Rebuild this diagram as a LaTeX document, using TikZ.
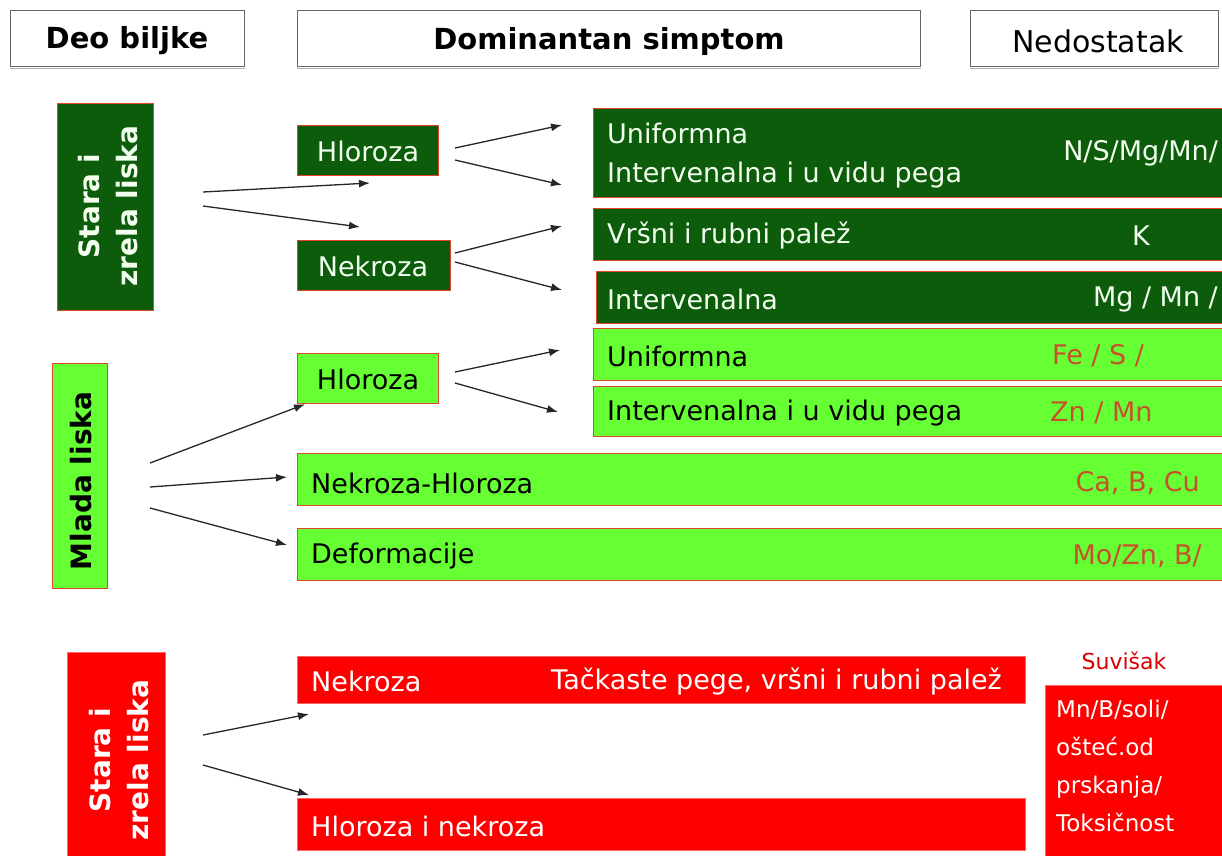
\documentclass[tikz,border=0pt]{standalone}
\usepackage{fontspec}
\setmainfont{DejaVu Sans}
\usetikzlibrary{arrows.meta}
\definecolor{dgreen}{HTML}{0C5C0C}
\definecolor{lgreen}{HTML}{66FF33}
\definecolor{bred}{HTML}{FF0000}
\definecolor{edge}{HTML}{E2452B}
\definecolor{elem}{HTML}{C8502D}
\definecolor{wtxt}{HTML}{F2FFEE}
\begin{document}
\begin{tikzpicture}[x=1pt,y=-1pt,
  hdr/.style={draw=gray!80!black, line width=0.8pt, fill=white, anchor=north west, inner sep=0pt},
  dg/.style={fill=dgreen, draw=edge, line width=1.2pt, anchor=north west, inner sep=0pt},
  lg/.style={fill=lgreen, draw=edge, line width=1.2pt, anchor=north west, inner sep=0pt},
  rd/.style={fill=bred, draw=bred!60!white, line width=0.6pt, anchor=north west, inner sep=0pt},
  txt/.style={font=\fontsize{27}{32}\selectfont, inner sep=0pt},
  wt/.style={txt, text=wtxt},
  bt/.style={txt, text=black},
  et/.style={txt, text=elem},
  vlab/.style={font=\fontsize{28}{38}\selectfont\bfseries, rotate=90, align=center, inner sep=0pt},
  arr/.style={draw=black!85, line width=1.3pt, -{Latex[length=11pt,width=8pt]}}
]
\useasboundingbox (0,0) rectangle (1222,855);
\clip (0,0) rectangle (1222,855);
% header
\node[hdr, minimum width=234, minimum height=56] (h1) at (10,10) {};
\node[bt, font=\fontsize{29}{32}\selectfont\bfseries] (h1t) at (127,41) {Deo biljke};
\node[hdr, minimum width=623, minimum height=56] (h2) at (297,10) {};
\node[bt, font=\fontsize{29}{32}\selectfont\bfseries] (h2t) at (609,41) {Dominantan simptom};
\node[hdr, minimum width=248, minimum height=56] (h3) at (970,10) {};
\node[bt, font=\fontsize{30}{32}\selectfont] (h3t) at (1098,41) {Nedostatak};
\draw[gray!60, line width=1.2pt] ([yshift=-2]h1.south west) -- ([yshift=-2]h1.south east);
\draw[gray!60, line width=1.2pt] ([yshift=-2]h2.south west) -- ([yshift=-2]h2.south east);
\draw[gray!60, line width=1.2pt] ([yshift=-2]h3.south west) -- ([yshift=-2]h3.south east);

% old leaves (deficiency)
\node[dg, minimum width=96, minimum height=207] (s1) at (57,103) {};
\node[vlab, text=wtxt] (s1t) at (108,206) {Stara i\\zrela liska};
\node[dg, minimum width=141, minimum height=50] (hl1) at (297,125) {};
\node[wt] (hl1t) at (368,151) {Hloroza};
\node[dg, minimum width=153, minimum height=50] (nk1) at (297,240) {};
\node[wt] (nk1t) at (373,266) {Nekroza};

\node[dg, minimum width=632, minimum height=89] (r1) at (593,108) {};
\node[wt, anchor=west, align=left, font=\fontsize{27}{39}\selectfont] (r1t) at (607,156) {Uniformna\\Intervenalna i u vidu pega};
\node[wt, anchor=east] (r1e) at (1218,153) {N/S/Mg/Mn/};
\node[dg, minimum width=632, minimum height=52] (r2) at (593,208) {};
\node[wt, anchor=west] (r2t) at (607,236) {Vršni i rubni palež};
\node[wt] (r2e) at (1141,236) {K};
\node[dg, minimum width=629, minimum height=52] (r3) at (596,271) {};
\node[wt, anchor=west] (r3t) at (607,299) {Intervenalna};
\node[wt, anchor=east] (r3e) at (1218,299) {Mg / Mn /};

% young leaves
\node[lg, minimum width=632, minimum height=52] (r4) at (593,328) {};
\node[bt, anchor=west] (r4t) at (607,356) {Uniformna};
\node[et, anchor=west] (r4e) at (1052,356) {Fe / S /};
\node[lg, minimum width=632, minimum height=50] (r5) at (593,386) {};
\node[bt, anchor=west] (r5t) at (607,413) {Intervenalna i u vidu pega};
\node[et, anchor=west] (r5e) at (1050,413) {Zn / Mn};

\node[lg, minimum width=55, minimum height=225] (ml) at (52,363) {};
\node[vlab, text=black] (mlt) at (81,481) {Mlada liska};
\node[lg, minimum width=141, minimum height=50] (hl2) at (297,353) {};
\node[bt] (hl2t) at (368,379) {Hloroza};
\node[lg, minimum width=928, minimum height=52] (nh) at (297,453) {};
\node[bt, anchor=west] (nht) at (311,483) {Nekroza-Hloroza};
\node[et, anchor=east] (nhe) at (1200,483) {Ca, B, Cu};
\node[lg, minimum width=928, minimum height=52] (df) at (297,528) {};
\node[bt, anchor=west] (dft) at (311,556) {Deformacije};
\node[et, anchor=east] (dfe) at (1202,556) {Mo/Zn, B/};

% old leaves (excess)
\node[rd, minimum width=98, minimum height=210] (s2) at (67,652) {};
\node[vlab, text=white] (s2t) at (119,760) {Stara i\\zrela liska};
\node[rd, minimum width=728, minimum height=47] (nk2) at (297,656) {};
\node[txt, text=white, anchor=west] (nk2t) at (311,681) {Nekroza};
\node[txt, text=white, anchor=east] (nk2e) at (1002,681) {Tačkaste pege, vršni i rubni palež};
\node[rd, minimum width=728, minimum height=52] (hn) at (297,798) {};
\node[txt, text=white, anchor=west] (hnt) at (311,826) {Hloroza i nekroza};
\node[font=\fontsize{22}{24}\selectfont, text=bred!85!black, inner sep=0pt] (sv) at (1124,661) {Suvišak};
\node[rd, minimum width=180, minimum height=175] (sx) at (1045,685) {};
\node[txt, text=white, anchor=north west, align=left, font=\fontsize{23}{38}\selectfont] (sxt) at (1056,700) {Mn/B/soli/\\ošteć.od\\prskanja/\\Toksičnost};

% arrows
\coordinate (a0) at (203,192);
\coordinate (a1) at (203,206);
\coordinate (t1) at (370,183);
\coordinate (t2) at (360,227);
\draw[arr] (a0) -- (t1);
\draw[arr] (a1) -- (t2);
\coordinate (h1a) at (455,148);
\coordinate (h1b) at (455,160);
\coordinate (h1c) at (562,125);
\coordinate (h1d) at (562,185);
\draw[arr] (h1a) -- (h1c);
\draw[arr] (h1b) -- (h1d);
\coordinate (n1a) at (455,253);
\coordinate (n1b) at (455,262);
\coordinate (n1c) at (562,226);
\coordinate (n1d) at (562,290);
\draw[arr] (n1a) -- (n1c);
\draw[arr] (n1b) -- (n1d);
\coordinate (h2a) at (455,372);
\coordinate (h2b) at (455,383);
\coordinate (h2c) at (560,350);
\coordinate (h2d) at (558,412);
\draw[arr] (h2a) -- (h2c);
\draw[arr] (h2b) -- (h2d);
\coordinate (m1) at (150,463);
\coordinate (m2) at (150,487);
\coordinate (m3) at (150,508);
\draw[arr] (m1) -- ([xshift=8pt]hl2.south west);
\draw[arr] (m2) -- (287,477);
\draw[arr] (m3) -- (287,545);
\coordinate (e1) at (203,735);
\coordinate (e2) at (203,765);
\draw[arr] (e1) -- (309,714);
\draw[arr] (e2) -- (309,795);
\end{tikzpicture}
\end{document}
